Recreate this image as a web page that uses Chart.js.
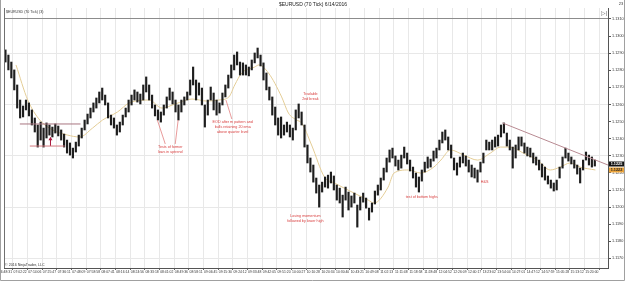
<!DOCTYPE html>
<html><head><meta charset="utf-8">
<script src="https://cdn.jsdelivr.net/npm/chart.js@4.4.1/dist/chart.umd.min.js"></script>
<style>html,body{margin:0;padding:0;background:#fff;}canvas{display:block;}</style>
</head><body>
<canvas id="c" width="625" height="281"></canvas>
<script>
const timeLabels = ["06:48:31","07:02:22","07:14:06","07:25:47","07:36:11","07:48:09","07:58:58","08:07:41","08:16:14","08:24:56",
"08:33:18","08:41:02","08:49:36","08:58:11","09:06:45","09:15:30","09:24:12","09:33:48","09:42:05","09:51:20",
"10:00:27","10:10:28","10:20:34","10:30:40","10:43:21","10:49:08","11:02:13","11:11:48","11:18:58","11:28:48",
"12:04:52","12:26:09","12:40:17","13:23:02","13:54:04","14:27:01","14:47:12","14:57:59","15:05:28","15:13:12","15:20:00"];

const highs = [
1.12919,1.12889,1.12848,1.12802,1.12714,1.12626,1.12591,1.12626,1.12609,1.12568,
1.12521,1.12480,1.12497,1.12462,1.12492,1.12480,1.12468,1.12486,1.12474,1.12451,
1.12427,1.12392,1.12375,1.12345,1.12380,1.12421,1.12462,1.12509,1.12544,1.12579,
1.12609,1.12638,1.12673,1.12696,1.12655,1.12609,1.12538,1.12521,1.12480,1.12497,
1.12538,1.12579,1.12626,1.12655,1.12685,1.12673,1.12661,1.12714,1.12761,1.12714,
1.12655,1.12597,1.12568,1.12556,1.12597,1.12644,1.12696,1.12673,1.12626,1.12597,
1.12626,1.12644,1.12673,1.12743,1.12819,1.12743,1.12726,1.12696,1.12597,1.12626,
1.12702,1.12667,1.12626,1.12609,1.12667,1.12714,1.12772,1.12831,1.12889,1.12907,
1.12848,1.12843,1.12831,1.12819,1.12860,1.12901,1.12930,1.12889,1.12843,1.12784,
1.12702,1.12644,1.12585,1.12521,1.12527,1.12480,1.12497,1.12480,1.12462,1.12568,
1.12603,1.12556,1.12480,1.12363,1.12287,1.12246,1.12170,1.12129,1.12146,1.12176,
1.12187,1.12205,1.12182,1.12129,1.12111,1.12070,1.12117,1.12088,1.12065,1.12082,
1.12012,1.12059,1.12082,1.12053,1.11994,1.12024,1.12094,1.12129,1.12170,1.12228,
1.12287,1.12334,1.12345,1.12299,1.12275,1.12304,1.12351,1.12316,1.12275,1.12234,
1.12199,1.12176,1.12217,1.12263,1.12293,1.12281,1.12328,1.12345,1.12392,1.12439,
1.12451,1.12410,1.12363,1.12287,1.12258,1.12293,1.12316,1.12299,1.12275,1.12246,
1.12228,1.12217,1.12263,1.12316,1.12392,1.12380,1.12392,1.12410,1.12421,1.12480,
1.12492,1.12433,1.12392,1.12351,1.12363,1.12410,1.12410,1.12375,1.12351,1.12345,
1.12316,1.12293,1.12275,1.12252,1.12234,1.12182,1.12158,1.12141,1.12158,1.12234,
1.12293,1.12345,1.12316,1.12293,1.12275,1.12246,1.12228,1.12275,1.12322,1.12304,
1.12293,1.12275];

const lows = [
1.12848,1.12802,1.12755,1.12685,1.12579,1.12521,1.12527,1.12568,1.12533,1.12480,
1.12439,1.12351,1.12392,1.12351,1.12404,1.12421,1.12410,1.12433,1.12416,1.12392,
1.12351,1.12316,1.12304,1.12287,1.12322,1.12357,1.12404,1.12451,1.12486,1.12521,
1.12556,1.12579,1.12609,1.12626,1.12597,1.12521,1.12480,1.12462,1.12421,1.12439,
1.12480,1.12527,1.12556,1.12597,1.12626,1.12614,1.12603,1.12626,1.12673,1.12626,
1.12579,1.12533,1.12509,1.12497,1.12538,1.12579,1.12626,1.12603,1.12556,1.12509,
1.12556,1.12597,1.12626,1.12655,1.12714,1.12626,1.12655,1.12597,1.12468,1.12538,
1.12626,1.12568,1.12538,1.12550,1.12597,1.12644,1.12696,1.12755,1.12802,1.12831,
1.12772,1.12772,1.12772,1.12767,1.12802,1.12843,1.12872,1.12825,1.12743,1.12685,
1.12626,1.12538,1.12480,1.12421,1.12404,1.12421,1.12439,1.12410,1.12392,1.12451,
1.12521,1.12480,1.12351,1.12258,1.12205,1.12146,1.12082,1.12000,1.12088,1.12117,
1.12111,1.12141,1.12100,1.12041,1.12024,1.11942,1.12041,1.11983,1.12000,1.12024,
1.11883,1.11983,1.12029,1.11994,1.11924,1.11971,1.12018,1.12070,1.12100,1.12158,
1.12205,1.12263,1.12287,1.12240,1.12217,1.12228,1.12287,1.12252,1.12211,1.12170,
1.12117,1.12088,1.12152,1.12205,1.12228,1.12234,1.12269,1.12287,1.12334,1.12375,
1.12392,1.12334,1.12287,1.12217,1.12187,1.12234,1.12258,1.12240,1.12205,1.12176,
1.12170,1.12146,1.12205,1.12258,1.12334,1.12334,1.12334,1.12351,1.12357,1.12410,
1.12433,1.12357,1.12334,1.12228,1.12287,1.12334,1.12357,1.12316,1.12299,1.12293,
1.12258,1.12246,1.12217,1.12176,1.12158,1.12135,1.12111,1.12094,1.12100,1.12170,
1.12228,1.12287,1.12269,1.12252,1.12228,1.12193,1.12141,1.12217,1.12275,1.12246,
1.12234,1.12240];

const emaIdx = [3.6,7.6,11.7,16.1,21.2,25.3,29.7,33.1,38.2,42.2,49.0,53.4,57.9,63.6,68.7,72.8,76.2,78.2,80.6,85.0,86.4,89.7,94.2,96.5,99.3,101.0,104.4,108.8,112.2,118.9,123.7,125.7,130.5,132.5,137.3,141.7,146.1,148.5,151.8,156.3,161.0,165.4,168.8,172.2,176.6,181.4,185.8,189.2,192.6,196.0,201.2];
const emaVal = [1.12831,1.12626,1.12509,1.12451,1.12421,1.12410,1.12462,1.12509,1.12556,1.12609,1.12626,1.12579,1.12603,1.12632,1.12620,1.12626,1.12644,1.12714,1.12784,1.12819,1.12831,1.12784,1.12644,1.12550,1.12509,1.12492,1.12363,1.12176,1.12141,1.12082,1.12041,1.12024,1.12117,1.12199,1.12217,1.12199,1.12234,1.12275,1.12334,1.12304,1.12275,1.12316,1.12351,1.12351,1.12316,1.12275,1.12217,1.12234,1.12258,1.12234,1.12217];

const trendIdx = [169.5, 205.5];
const trendVal = [1.12492, 1.12246];

const levelFrom = [4.9, 8.3];
const levelTo = [25.6, 20.2];
const levelVal = [1.12486, 1.12357];

const arrowIdx = 15.35;
const arrowBase = 1.12357;
const arrowTip = 1.12398;

const yTicks = [1.1170,1.1180,1.1190,1.1200,1.1210,1.1220,1.1230,1.1240,1.1250,1.1260,1.1270,1.1280,1.1290,1.1300,1.1310];
const lastClose = 1.12252;
const emaLast = 1.12217;

const noteIdx = [56.2, 77.5, 104.0, 102.3, 142.0, 163.4];
const notePrice = [1.12351, 1.12497, 1.12661, 1.11948, 1.12059, 1.12146];
const noteText = [
  ["Tests of former", "lows in uptrend"],
  ["EOD after m pattern and", "bulls retaining 20 ema", "above quarter level"],
  ["Tradable", "2nd break"],
  ["Losing momentum", "followed by lower high"],
  ["test of bottom highs"],
  ["H&S"]
];
const connFromIdx = [54.5, 57.9, 77.2];
const connFromVal = [1.12369, 1.12369, 1.12515];
const connToIdx = [51.8, 58.9, 75.2];
const connToVal = [1.12509, 1.12509, 1.12626];

const FONT = '"Liberation Sans", Arial, sans-serif';

const datasets = [];
datasets.push({type:'line', label:'trend', data: trendIdx.map((v,i)=>({x:v, y:trendVal[i]})), borderColor:'#b88a92', borderWidth:1, pointRadius:0, order:1});
levelVal.forEach((v,i)=>{
  datasets.push({type:'line', label:'level'+i, data:[{x:levelFrom[i], y:v},{x:levelTo[i], y:v}], borderColor: i===0 ? '#a87680' : '#d57a80', borderWidth:1, pointRadius:0, order:1});
});
datasets.push({type:'line', label:'arrowStem', data:[{x:arrowIdx, y:arrowBase},{x:arrowIdx, y:arrowTip}], borderColor:'#a8153a', borderWidth:1, pointRadius:0, order:1});
datasets.push({type:'line', label:'arrowHead', data:[{x:arrowIdx, y:arrowTip}], showLine:false, pointStyle:'triangle', pointRadius:2.3, pointBackgroundColor:'#a8153a', pointBorderColor:'#a8153a', pointBorderWidth:0, order:1});
connFromIdx.forEach((v,i)=>{
  datasets.push({type:'line', label:'conn'+i, data:[{x:v, y:connFromVal[i]},{x:connToIdx[i], y:connToVal[i]}], borderColor:'#e07070', borderWidth:0.7, pointRadius:0, order:1});
});
datasets.push({type:'bar', label:'$EURUSD', data: highs.map((h,i)=>({x:i, y:[lows[i], h]})), backgroundColor:'#1e1e1e', borderWidth:0, barThickness:1.5, order:2});
datasets.push({type:'line', label:'EMA', data: emaIdx.map((v,i)=>({x:v, y:emaVal[i]})), borderColor:'#e4cd96', borderWidth:1, pointRadius:0, cubicInterpolationMode:'monotone', order:3});

const deco = {
  id:'deco',
  afterDraw(chart){
    const {ctx, chartArea:a, scales:{x, y}} = chart;
    ctx.save();
    ctx.strokeStyle = '#a0a0a0'; ctx.lineWidth = 1;
    ctx.beginPath(); ctx.moveTo(0.5, 0); ctx.lineTo(0.5, 280.5); ctx.lineTo(624.5, 280.5); ctx.lineTo(624.5, 0); ctx.stroke();
    ctx.strokeStyle = '#707070';
    ctx.beginPath(); ctx.moveTo(a.left + 0.5, a.top); ctx.lineTo(a.left + 0.5, a.bottom); ctx.stroke();
    ctx.fillStyle = '#d83c3c';
    ctx.font = '3.7px ' + FONT;
    ctx.textAlign = 'center'; ctx.textBaseline = 'middle';
    noteText.forEach((lines, n)=>{
      const px = x.getPixelForValue(noteIdx[n]);
      const py = y.getPixelForValue(notePrice[n]);
      lines.forEach((t, j)=> ctx.fillText(t, px, py + j*5));
    });
    ctx.fillStyle = '#333'; ctx.textAlign = 'left';
    ctx.font = '3.6px ' + FONT;
    ctx.fillText('$EURUSD (70 Tick) (3)', a.left + 2, a.top + 4);
    ctx.fillText('\u00A9 2016 NinjaTrader, LLC', a.left + 1, a.bottom - 3);
    ctx.fillStyle = '#666'; ctx.font = '6px ' + FONT; ctx.textAlign = 'center';
    ctx.fillText('\u25B7|', a.right - 4, a.top + 5);
    ctx.fillStyle = '#333'; ctx.font = '4px ' + FONT;
    ctx.fillText('23', 621, 4);
    const mk = (val, bg, fg) => {
      const py = y.getPixelForValue(val);
      ctx.fillStyle = bg; ctx.fillRect(a.right + 1, py - 2.5, 15, 5);
      ctx.fillStyle = fg; ctx.font = 'bold 3.8px ' + FONT; ctx.textAlign = 'center'; ctx.textBaseline = 'middle';
      ctx.fillText(val.toFixed(4), a.right + 8.5, py + 0.2);
    };
    mk(emaLast, '#eba33a', '#222');
    mk(lastClose, '#111', '#fff');
    ctx.restore();
  }
};

new Chart(document.getElementById('c'), {
  type:'bar',
  data:{ datasets },
  plugins:[deco],
  options:{
    responsive:false, animation:false, events:[],
    layout:{ padding:{ left:1, top:0, right:0, bottom:0 } },
    plugins:{
      legend:{ display:false }, tooltip:{ enabled:false },
      title:{ display:true, text:'$EURUSD (70 Tick) 6/14/2016', color:'#222', font:{ size:5, family:FONT, lineHeight:1, weight:'normal' }, padding:{ top:2, bottom:1 } }
    },
    scales:{
      x:{
        type:'linear', min:-0.5, max:205.5, offset:false,
        afterBuildTicks(s){ s.ticks = timeLabels.map((t,k)=>({ value:k*5 })); },
        afterFit(s){ s.height = 13; s.paddingLeft = 0; s.paddingRight = 0; },
        ticks:{ autoSkip:false, maxRotation:0, minRotation:0, padding:0, color:'#333', font:{ size:3.4, family:FONT },
          callback:(v, i)=> timeLabels[i] },
        grid:{ color:'#e8e8e8', lineWidth:1, tickLength:2, tickColor:'#666' },
        border:{ color:'#555', width:1 }
      },
      y:{
        type:'linear', position:'right', min:1.11644, max:1.13164,
        afterBuildTicks(s){ s.ticks = yTicks.map(v=>({ value:v })); },
        afterFit(s){ s.width = 17; s.paddingTop = 0; s.paddingBottom = 0; },
        ticks:{ padding:1, color:'#333', font:{ size:3.8, family:FONT }, callback:(v)=> Number(v).toFixed(4) },
        grid:{
          color:(c)=> { if (c.index === yTicks.length - 1) return '#8c8c8c'; return (c.index % 3 === 0) ? '#e8e8e8' : 'rgba(0,0,0,0)'; },
          tickColor:'#555', tickLength:3, lineWidth:1
        },
        border:{ color:'#555', width:1 }
      }
    }
  }
});
</script>
</body></html>
